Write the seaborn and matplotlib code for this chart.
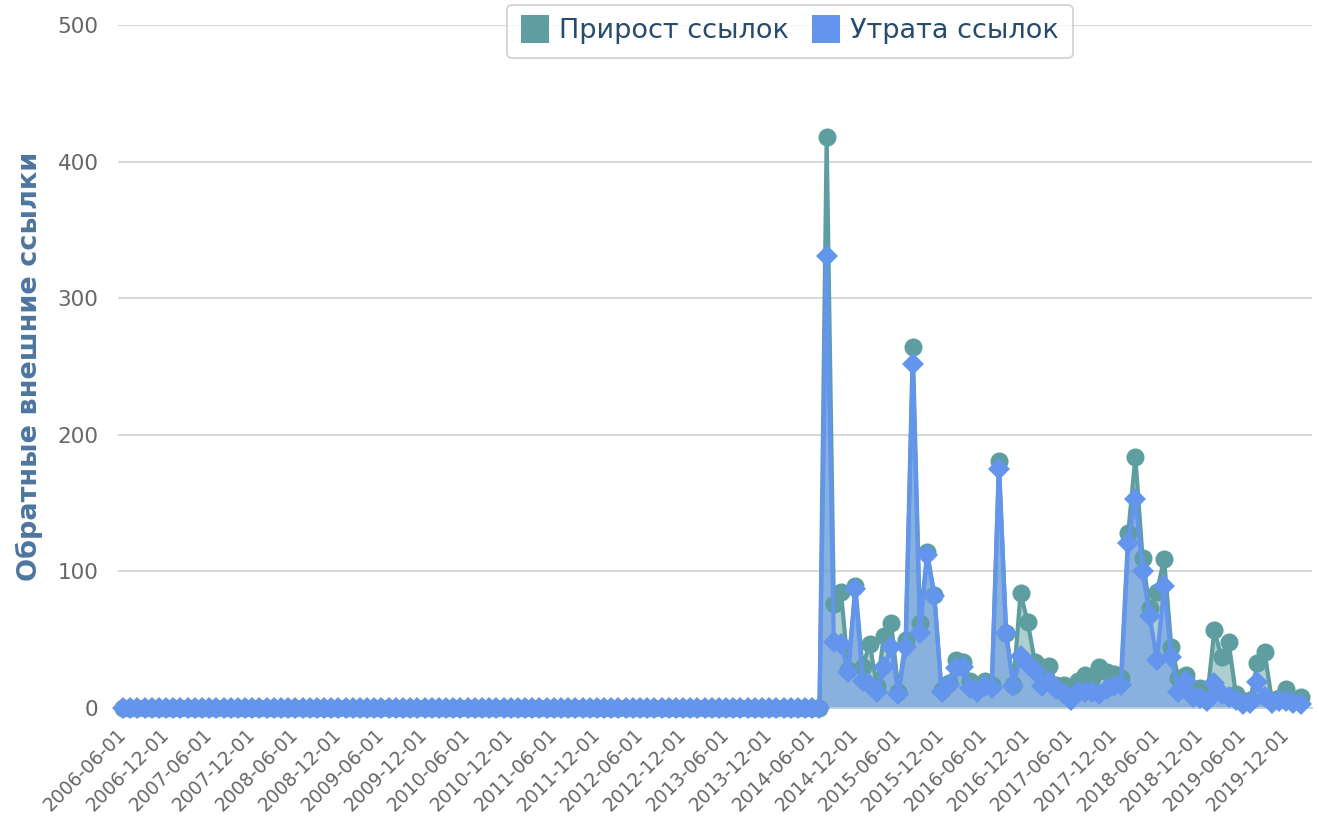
import matplotlib
matplotlib.use("Agg")
import matplotlib.pyplot as plt
from matplotlib.lines import Line2D
import numpy as np
import pandas as pd
import seaborn as sns

# monthly categories, 2006-06 .. 2020-02
months = pd.date_range("2006-06-01", "2020-02-01", freq="MS")
tick_labels = [d.strftime("%Y-%m-%d") for d in months[::6]]

gain = [0] * 98 + [
    418, 76, 85, 28, 89, 30, 47, 16, 53, 62, 12, 50, 264, 62, 114, 83, 13, 18,
    35, 34, 20, 17, 20, 17, 181, 55, 17, 84, 63, 34, 30, 31, 17, 17, 12, 20,
    24, 22, 30, 26, 25, 22, 128, 184, 110, 73, 85, 109, 45, 22, 24, 12, 15, 8,
    57, 37, 48, 10, 5, 6, 33, 41, 6, 7, 14, 6, 8,
]
loss = [0] * 98 + [
    331, 48, 47, 26, 87, 20, 17, 12, 30, 45, 10, 45, 252, 55, 112, 82, 12, 17,
    29, 30, 15, 12, 16, 15, 175, 55, 16, 38, 32, 27, 16, 20, 14, 10, 6, 12,
    12, 12, 10, 14, 16, 17, 121, 153, 100, 67, 35, 89, 37, 12, 20, 8, 7, 5,
    18, 10, 8, 6, 3, 4, 19, 8, 4, 5, 5, 4, 3,
]
series_names = ["Прирост ссылок", "Утрата ссылок"]
colors = ["#5F9EA0", "#6495ED"]

idx = np.arange(len(months))
df = pd.concat(
    [
        pd.DataFrame({"idx": idx, "value": gain, "series": series_names[0]}),
        pd.DataFrame({"idx": idx, "value": loss, "series": series_names[1]}),
    ]
)

sns.set_theme(style="white")
plt.rcParams["font.family"] = ["DejaVu Sans"]

fig = plt.figure(figsize=(13.19, 8.16), dpi=100)
ax = fig.add_axes([118 / 1319, 1 - 708 / 816, 1194 / 1319, 683 / 816])

for name, col, vals in zip(series_names, colors, [gain, loss]):
    ax.fill_between(idx, 0, vals, color=col, alpha=0.5, linewidth=0, zorder=1)

sns.lineplot(
    data=df, x="idx", y="value", hue="series", style="series",
    hue_order=series_names, style_order=series_names,
    palette=dict(zip(series_names, colors)),
    markers={series_names[0]: "o", series_names[1]: "D"},
    dashes=False, linewidth=3, markersize=13, markeredgewidth=0,
    legend=False, ax=ax, zorder=3,
)
for line in ax.lines:
    line.set_clip_on(False)
ax.lines[1].set_markersize(11)

ax.set_xlim(-0.7, 165.6)
ax.set_ylim(0, 500)
ax.set_yticks([0, 100, 200, 300, 400, 500])
ax.yaxis.grid(True, color="#D8D8D8", linewidth=1.5)
ax.set_axisbelow(True)
ax.set_xticks(idx[::6])
ax.set_xticklabels(tick_labels, rotation=45, ha="right", va="center",
                   rotation_mode="anchor", fontsize=13.5, color="#666666")
ax.tick_params(axis="x", length=8, width=1.3, color="#C0D0E0", pad=9, direction="out")
ax.tick_params(axis="y", length=0, labelsize=15.5, labelcolor="#666666", pad=14)

for s in ["top", "right", "left"]:
    ax.spines[s].set_visible(False)
ax.spines["bottom"].set_color("#C0D0E0")
ax.spines["bottom"].set_linewidth(1.3)

ax.set_xlabel("")
ax.set_ylabel("Обратные внешние ссылки", fontsize=19.5, fontweight="bold", color="#4D759E")
ax.yaxis.set_label_coords(-0.063, 0.5)

handles = [
    Line2D([], [], linestyle="none", marker="s", markersize=20, color=c, markeredgewidth=0)
    for c in colors
]
leg = fig.legend(
    handles, series_names, loc="upper center", bbox_to_anchor=(0.5986, 0.994),
    ncol=2, fontsize=19.5, frameon=True, fancybox=True, handletextpad=0.35,
    columnspacing=0.8, borderpad=0.5, handlelength=1.1, borderaxespad=0,
)
leg.get_frame().set_edgecolor("#C8C8C8")
leg.get_frame().set_linewidth(1.3)
for t in leg.get_texts():
    t.set_color("#274B6D")

fig.savefig("out.png", dpi=100)
